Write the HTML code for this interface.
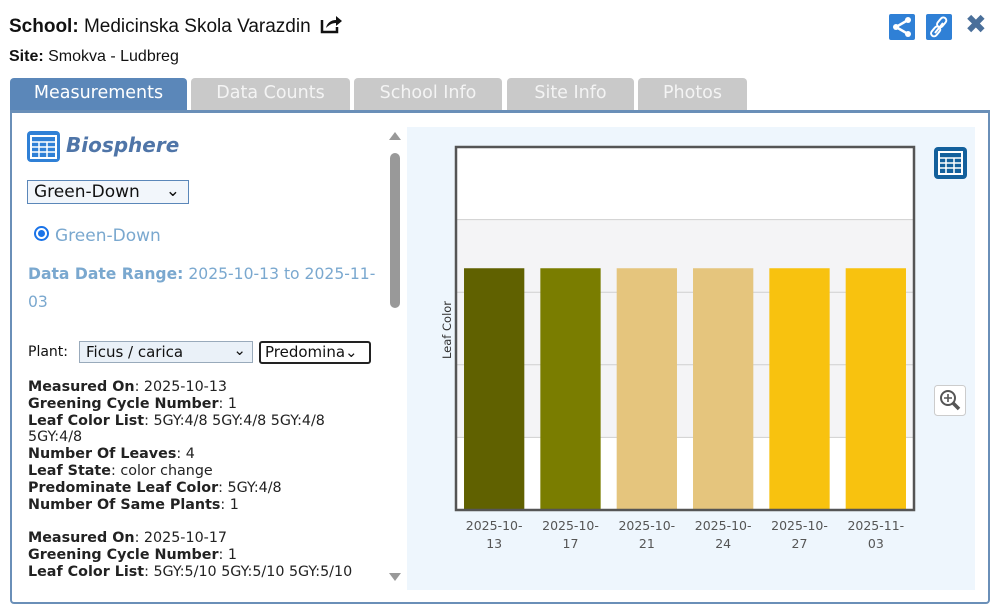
<!DOCTYPE html>
<html><head><meta charset="utf-8">
<style>
*{margin:0;padding:0;box-sizing:border-box}
body{width:1000px;height:610px;background:#fff;position:relative;overflow:hidden;font-family:"Liberation Sans",sans-serif;color:#111}
.abs{position:absolute}
.tab{position:absolute;top:78px;height:32px;background:#c9c9c9;color:#f4f4f4;font:17.5px "DejaVu Sans",sans-serif;text-align:center;line-height:31px;border-radius:4px 4px 0 0}
.info{font:14.3px/16.8px "DejaVu Sans",sans-serif;color:#222}
.info b{font-weight:bold}
</style></head><body>
<div class="abs" style="left:9px;top:14px;font-size:19px"><b>School:</b> Medicinska Skola Varazdin
<svg width="22" height="20" viewBox="0 0 22 20" style="vertical-align:-2px;margin-left:4px"><path d="M2 6v12h15v-5" fill="none" stroke="#111" stroke-width="2.5"/><path d="M6 14c1-5 5-8 10-8V2l6 5-6 5V9c-4 0-7 2-10 5z" fill="#111"/></svg></div>
<div class="abs" style="left:9px;top:48px;font-size:16px"><b>Site:</b> Smokva - Ludbreg</div>
<svg class="abs" style="left:889px;top:14px" width="26" height="26"><rect width="26" height="26" rx="2" fill="#2f80d6"/><circle cx="19" cy="6" r="3" fill="#fff"/><circle cx="7" cy="13" r="3" fill="#fff"/><circle cx="19" cy="20" r="3" fill="#fff"/><path d="M19 6L7 13l12 7" stroke="#fff" stroke-width="2.5" fill="none"/></svg>
<svg class="abs" style="left:926px;top:14px" width="26" height="26"><rect width="26" height="26" rx="2" fill="#2f80d6"/><path d="M9 19l8-10" stroke="#fff" stroke-width="2"/><rect x="13" y="3" width="6" height="11" rx="3" transform="rotate(40 16 8)" fill="none" stroke="#fff" stroke-width="2"/><rect x="7" y="12" width="6" height="11" rx="3" transform="rotate(40 10 17)" fill="none" stroke="#fff" stroke-width="2"/></svg>
<div class="abs" style="left:965px;top:10px;font:bold 26px 'DejaVu Sans',sans-serif;color:#4a6f9a">✖</div>

<div class="tab" style="left:10px;width:177px;background:#5b87b9;color:#fff">Measurements</div>
<div class="tab" style="left:191px;width:159px">Data Counts</div>
<div class="tab" style="left:354px;width:148px">School Info</div>
<div class="tab" style="left:507px;width:127px">Site Info</div>
<div class="tab" style="left:638px;width:109px">Photos</div>

<div class="abs" style="left:10px;top:110px;width:980px;height:494px;border:2px solid #6a8fb8;border-top-width:3px;border-radius:0 0 4px 4px"></div>

<svg class="abs" style="left:27px;top:131px" width="33" height="31"><rect width="33" height="31" rx="4" fill="#2f80d6"/><rect x="4" y="5" width="25" height="22" fill="none" stroke="#fff" stroke-width="2"/><path d="M4 11h25M4 16h25M4 21h25M12 11v16M20 11v16" stroke="#fff" stroke-width="1.5"/></svg>
<div class="abs" style="left:66px;top:133px;font:italic bold 20px 'DejaVu Sans',sans-serif;color:#4f75a8">Biosphere</div>
<div class="abs" style="left:27px;top:180px;width:162px;height:24px;border:1px solid #5b87b9;background:#f2f6fb;font:17px 'DejaVu Sans',sans-serif;padding:1px 6px">Green-Down<span style="position:absolute;right:8px;top:0">⌄</span></div>
<div class="abs" style="left:34px;top:226px;width:15px;height:15px;border-radius:50%;border:2px solid #1a73e8;background:#fff"><div style="margin:2px;width:7px;height:7px;border-radius:50%;background:#1a73e8"></div></div>
<div class="abs" style="left:55px;top:226px;font:17px 'DejaVu Sans',sans-serif;color:#7aa8cf">Green-Down</div>
<div class="abs" style="left:28px;top:260px;width:360px;font:15.6px/28px 'DejaVu Sans',sans-serif;color:#7aa8cf"><b>Data Date Range:</b> 2025-10-13 to 2025-11-03</div>
<div class="abs" style="left:28px;top:344px;font:14px 'DejaVu Sans',sans-serif">Plant:</div>
<div class="abs" style="left:79px;top:341px;width:174px;height:22px;border:1px solid #9ab;background:#eaf1f8;font:15px 'DejaVu Sans',sans-serif;padding:1px 6px">Ficus / carica<span style="position:absolute;right:6px;top:-1px">⌄</span></div>
<div class="abs" style="left:259px;top:341px;width:112px;height:23px;border:2px solid #222;border-radius:3px;font:15px 'DejaVu Sans',sans-serif;padding:0 4px;overflow:hidden;white-space:nowrap">Predomina⌄</div>

<div class="abs info" style="left:28px;top:379px;width:350px;height:202px;overflow:hidden">
<b>Measured On</b>: 2025-10-13<br><b>Greening Cycle Number</b>: 1<br><b>Leaf Color List</b>: 5GY:4/8 5GY:4/8 5GY:4/8 5GY:4/8<br><b>Number Of Leaves</b>: 4<br><b>Leaf State</b>: color change<br><b>Predominate Leaf Color</b>: 5GY:4/8<br><b>Number Of Same Plants</b>: 1<br><br><b>Measured On</b>: 2025-10-17<br><b>Greening Cycle Number</b>: 1<br><b>Leaf Color List</b>: 5GY:5/10 5GY:5/10 5GY:5/10 5GY:5/10</div>

<div class="abs" style="left:387px;top:128px;width:16px;height:460px">
<div style="position:absolute;left:2px;top:4px;border:6px solid transparent;border-bottom:8px solid #999;border-top:0"></div>
<div style="position:absolute;left:3px;top:25px;width:10px;height:155px;border-radius:5px;background:#999"></div>
<div style="position:absolute;left:2px;top:445px;border:6px solid transparent;border-top:8px solid #999;border-bottom:0"></div></div>

<div class="abs" style="left:407px;top:127px;width:568px;height:463px;background:#eef6fd"></div>
<svg class="abs" id="chart" style="left:0;top:0" width="1000" height="610"></svg>
<svg class="abs" style="left:934px;top:147px" width="33" height="32"><rect width="33" height="32" rx="4" fill="#13609c"/><rect x="5" y="5" width="23" height="22" fill="none" stroke="#fff" stroke-width="2"/><path d="M5 11h23M5 16h23M5 21h23M12 11v16M20 11v16" stroke="#fff" stroke-width="1.5"/></svg>
<svg class="abs" style="left:934px;top:385px" width="32" height="31"><rect x="0.5" y="0.5" width="31" height="30" rx="3" fill="#fff" stroke="#ccc"/><circle cx="14" cy="13" r="7" fill="none" stroke="#555" stroke-width="2"/><path d="M14 9v8M10 13h8" stroke="#555" stroke-width="1.6"/><path d="M19 18l6 6" stroke="#555" stroke-width="3.5"/></svg>

<script>
const categories=["2025-10-13","2025-10-17","2025-10-21","2025-10-24","2025-10-27","2025-11-03"];
const values=[3.33,3.33,3.33,3.33,3.33,3.33];
const barColors=["#606100","#7a7d00","#e5c57d","#e5c57d","#f8c20f","#f8c20f"];
const yTicks=[1,2,3,4];
const yMax=5;
const NS="http://www.w3.org/2000/svg";
const svg=document.getElementById('chart');
const L=456,R=914,T=147,B=510;
const y=v=>B-(v/yMax)*(B-T);
const step=(R-L)/categories.length;
const xc=i=>L+step*(i+0.5);
function mk(t,a){const e=document.createElementNS(NS,t);for(const k in a)e.setAttribute(k,a[k]);svg.appendChild(e);return e;}
let bg=mk('rect',{x:L,y:T,width:R-L,height:B-T,fill:'#fff'});


let band=mk('rect',{x:L,y:y(4),width:R-L,height:y(1)-y(4),fill:'#f4f4f6'});


yTicks.forEach(t=>{const g=mk('line',{x1:L,x2:R,y1:y(t),y2:y(t),stroke:'#cfcfcf','stroke-width':1});

});
values.forEach((v,i)=>{const bw=step*0.79;
const r=mk('rect',{x:xc(i)-bw/2,y:y(v),width:bw,height:B-y(v),fill:barColors[i]});


const parts=categories[i].split('-');
const t=mk('text',{x:xc(i),y:B+20,'text-anchor':'middle','font-family':'DejaVu Sans, sans-serif','font-size':12.5,fill:'#555'});
t.textContent=parts[0]+'-'+parts[1]+'-';


const t2=mk('text',{x:xc(i),y:B+38,'text-anchor':'middle','font-family':'DejaVu Sans, sans-serif','font-size':12.5,fill:'#555'});
t2.textContent=parts[2];

});
let fr=mk('rect',{x:L,y:T,width:R-L,height:B-T,fill:'none',stroke:'#555','stroke-width':2.5});


let yt=mk('text',{x:0,y:0,transform:'translate(451,330) rotate(-90)','text-anchor':'middle','font-family':'DejaVu Sans, sans-serif','font-size':11.5,fill:'#333'});
yt.textContent='Leaf Color';


</script>
</body></html>
